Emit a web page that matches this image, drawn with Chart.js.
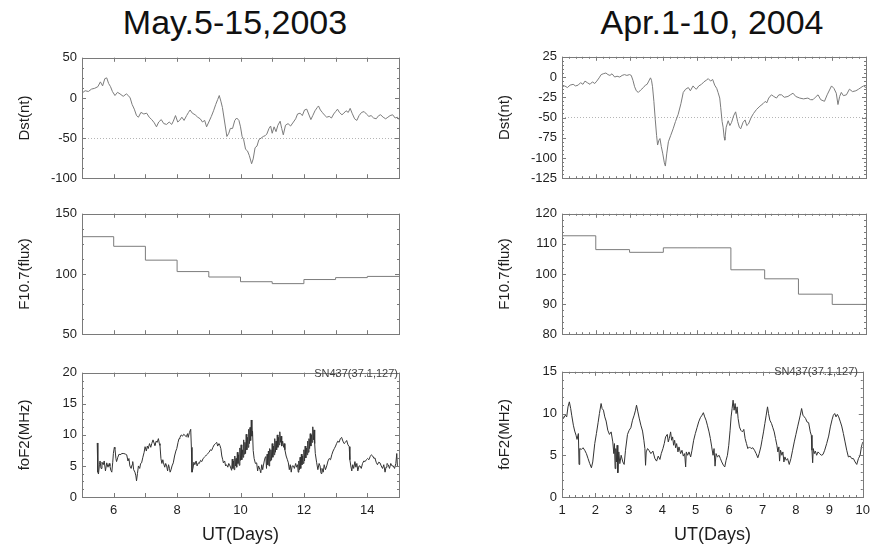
<!DOCTYPE html>
<html>
<head>
<meta charset="utf-8">
<script src="https://cdn.jsdelivr.net/npm/chart.js@4.4.1/dist/chart.umd.min.js"></script>
<style>
  body { margin: 0; background: #fff; width: 877px; height: 548px; position: relative; overflow: hidden;
         font-family: "Liberation Sans", Arial, sans-serif; }
  canvas { position: absolute; }
  .title { position: absolute; top: 3px; font-size: 34px; line-height: 38px; color: #111; white-space: nowrap;
           transform: translateX(-50%); }
  .station { position: absolute; font-size: 11px; color: #444; white-space: nowrap; }
</style>
</head>
<body>
<div class="title" style="left:235px">May.5-15,2003</div>
<div class="title" style="left:712px">Apr.1-10, 2004</div>

<canvas id="dstMay" width="399" height="146" style="left:10px;top:45px"></canvas>
<canvas id="fluxMay" width="399" height="146" style="left:10px;top:201px"></canvas>
<canvas id="fof2May" width="399" height="187" style="left:10px;top:360px"></canvas>

<canvas id="dstApr" width="386" height="147" style="left:490px;top:44px"></canvas>
<canvas id="fluxApr" width="386" height="146" style="left:490px;top:201px"></canvas>
<canvas id="fof2Apr" width="386" height="188" style="left:490px;top:359px"></canvas>

<div class="station" style="right:479px;top:367px">SN437(37.1,127)</div>
<div class="station" style="right:19px;top:365px">SN437(37.1,127)</div>

<script>
// ===== DATOS =====
// Dst, 5-15 mayo 2003
const dstMayDays = [5.00, 5.10, 5.20, 5.30, 5.40, 5.50, 5.58, 5.65, 5.72, 5.78, 5.84, 5.90, 5.96, 6.04, 6.12, 6.20,
  6.30, 6.40, 6.46, 6.52, 6.58, 6.65, 6.72, 6.78, 6.86, 6.95, 7.04, 7.12, 7.20, 7.28, 7.35, 7.42, 7.50, 7.58, 7.67,
  7.75, 7.83, 7.88, 7.95, 8.02, 8.08, 8.15, 8.22, 8.30, 8.36, 8.41, 8.48, 8.57, 8.65, 8.73, 8.80, 8.87, 8.93, 9.00,
  9.08, 9.15, 9.22, 9.28, 9.33, 9.38, 9.43, 9.50, 9.57, 9.63, 9.68, 9.75, 9.82, 9.88, 9.95, 10.00, 10.05, 10.10,
  10.16, 10.22, 10.28, 10.35, 10.40, 10.46, 10.52, 10.58, 10.65, 10.72, 10.78, 10.83, 10.90, 10.95, 11.00, 11.06,
  11.12, 11.18, 11.25, 11.30, 11.35, 11.42, 11.50, 11.58, 11.67, 11.74, 11.80, 11.88, 11.95, 12.02, 12.09, 12.15,
  12.22, 12.28, 12.35, 12.42, 12.46, 12.52, 12.58, 12.64, 12.72, 12.80, 12.87, 12.94, 13.00, 13.06, 13.12, 13.20,
  13.26, 13.33, 13.40, 13.46, 13.52, 13.60, 13.67, 13.74, 13.82, 13.90, 13.97, 14.05, 14.12, 14.20, 14.28, 14.36,
  14.42, 14.50, 14.58, 14.65, 14.72, 14.80, 14.88, 14.95, 15.00];
const dstMayVals = [6, 9, 8, 11, 12, 14, 20, 15, 24, 25, 18, 14, 8, 3, 7, 5,
  2, 5, 3, 0, -8, -14, -22, -24, -18, -20, -19, -24, -27, -31, -36, -30, -27, -32, -33,
  -30, -33, -29, -22, -30, -28, -24, -28, -22, -18, -15, -19, -21, -24, -26, -30, -28, -36, -30,
  -23, -16, -8, -2, 3, -4, -12, -30, -48, -44, -38, -38, -28, -25, -28, -36, -48, -52,
  -64, -66, -72, -82, -76, -62, -60, -52, -50, -48, -47, -45, -38, -35, -44, -36,
  -42, -34, -29, -38, -46, -34, -32, -35, -30, -26, -20, -19, -22, -15, -14, -20,
  -27, -22, -16, -12, -10, -15, -18, -21, -24, -23, -25, -20, -17, -14, -18, -21,
  -19, -16, -18, -13, -19, -26, -28, -22, -18, -17, -20, -23, -22, -25, -26, -22,
  -21, -24, -26, -24, -22, -21, -25, -24, -27];

// Dst, 1-10 abril 2004
const dstAprDays = [1.00, 1.08, 1.16, 1.24, 1.33, 1.40, 1.48, 1.55, 1.62, 1.68, 1.75, 1.83, 1.90, 1.97, 2.03, 2.10,
  2.16, 2.22, 2.30, 2.36, 2.42, 2.48, 2.56, 2.63, 2.71, 2.78, 2.85, 2.92, 3.00, 3.05, 3.10, 3.15, 3.20, 3.26, 3.33,
  3.41, 3.47, 3.52, 3.57, 3.62, 3.65, 3.68, 3.72, 3.76, 3.80, 3.83, 3.87, 3.90, 3.94, 3.98, 4.03, 4.06, 4.10, 4.15,
  4.22, 4.29, 4.36, 4.44, 4.52, 4.59, 4.66, 4.74, 4.80, 4.88, 4.94, 4.98, 5.05, 5.13, 5.20, 5.27, 5.33, 5.40, 5.46,
  5.52, 5.58, 5.62, 5.67, 5.70, 5.74, 5.77, 5.80, 5.82, 5.86, 5.92, 5.97, 6.02, 6.08, 6.14, 6.20, 6.25, 6.29, 6.36,
  6.42, 6.47, 6.52, 6.60, 6.67, 6.76, 6.86, 6.95, 7.02, 7.06, 7.12, 7.20, 7.27, 7.35, 7.42, 7.50, 7.58, 7.69, 7.76,
  7.84, 7.92, 8.04, 8.15, 8.28, 8.36, 8.43, 8.50, 8.58, 8.66, 8.77, 8.85, 8.92, 8.98, 9.05, 9.12, 9.17, 9.22, 9.27,
  9.33, 9.42, 9.51, 9.60, 9.70, 9.78, 9.85, 9.92, 10.00];
const dstAprVals = [-12, -11, -13, -10, -9, -11, -10, -7, -9, -5, -7, -9, -6, -8, -5, -1,
  3, 4, 5, 3, 2, 4, 0, 1, 0, 2, 3, 2, 3, 2, -4, -12, -17, -19, -16,
  -13, -10, -9, -5, -1, -4, -12, -30, -52, -72, -84, -78, -76, -86, -94, -106, -110, -95, -80,
  -72, -64, -55, -46, -33, -19, -15, -13, -17, -11, -14, -15, -11, -9, -6, -4, -2, -5, -3,
  -10, -14, -19, -26, -38, -55, -62, -74, -78, -62, -54, -60, -56, -48, -43, -55, -62, -64, -56,
  -53, -60, -58, -50, -45, -40, -36, -33, -30, -32, -26, -22, -24, -26, -22, -22, -25, -24, -22,
  -20, -24, -26, -27, -26, -28, -28, -25, -22, -28, -30, -22, -16, -11, -14, -20, -34, -24, -19,
  -23, -22, -15, -18, -17, -15, -13, -11, -13];

// F10.7 diario (escalones)
const fluxMayDays = [5, 6, 7, 8, 9, 10, 11, 12, 13, 14, 15];
const fluxMayVals = [131, 123, 111.5, 102, 97.5, 93.6, 92, 95.4, 97, 98, 98];
const fluxAprDays = [1, 2, 3, 4, 5, 6, 7, 8, 9, 10];
const fluxAprVals = [112.7, 108.1, 107.2, 108.7, 108.7, 101.4, 98.4, 93.3, 89.9, 89.9];

// foF2, estación SN437 (misma agrupación por filas en días y valores)
const fof2MayDays = [
  5.48, 5.50, 5.52, 5.55, 5.57, 5.60, 5.63, 5.67, 5.70, 5.74,
  5.78, 5.82, 5.86, 5.88, 5.91, 5.94, 5.97, 5.99, 6.02, 6.04,
  6.07, 6.09, 6.13, 6.17, 6.20, 6.26, 6.32, 6.37, 6.41, 6.45,
  6.48, 6.51, 6.55, 6.58, 6.60, 6.63, 6.67, 6.70, 6.72, 6.75,
  6.78, 6.82, 6.85, 6.88, 6.92, 6.96, 6.99, 7.03, 7.06, 7.09,
  7.13, 7.17, 7.20, 7.24, 7.28, 7.30, 7.34, 7.37, 7.41, 7.44,
  7.46, 7.49, 7.52, 7.55, 7.57, 7.61, 7.64, 7.67, 7.70, 7.73,
  7.76, 7.78, 7.81, 7.84, 7.88, 7.92, 7.96, 7.99, 8.03, 8.06,
  8.09, 8.13, 8.17, 8.21, 8.25, 8.29, 8.33, 8.35, 8.39, 8.43,
  8.45, 8.47, 8.50, 8.53, 8.56, 8.60, 8.63, 8.67, 8.70, 8.74,
  8.78, 8.82, 8.86, 8.90, 8.93, 8.97, 9.01, 9.05, 9.09, 9.13,
  9.17, 9.21, 9.25, 9.28, 9.32, 9.35, 9.38, 9.41, 9.44, 9.46,
  9.50, 9.53, 9.56, 9.60, 9.63, 9.67, 9.70, 9.72, 9.74, 9.76,
  9.78, 9.80, 9.82, 9.84, 9.86, 9.88, 9.90, 9.92, 9.94, 9.96,
  9.98, 10.00, 10.02, 10.04, 10.06, 10.08, 10.10, 10.12, 10.14, 10.16,
  10.18, 10.20, 10.22, 10.24, 10.26, 10.28, 10.30, 10.32, 10.34, 10.36,
  10.38, 10.40, 10.43, 10.47, 10.51, 10.54, 10.57, 10.61, 10.64, 10.67,
  10.70, 10.72, 10.75, 10.78, 10.80, 10.82, 10.84, 10.86, 10.88, 10.90,
  10.92, 10.94, 10.96, 10.98, 11.00, 11.02, 11.04, 11.06, 11.08, 11.10,
  11.12, 11.14, 11.16, 11.18, 11.20, 11.22, 11.24, 11.26, 11.28, 11.30,
  11.33, 11.36, 11.38, 11.40, 11.44, 11.48, 11.51, 11.54, 11.57, 11.60,
  11.63, 11.67, 11.70, 11.74, 11.77, 11.80, 11.82, 11.84, 11.86, 11.88,
  11.90, 11.92, 11.94, 11.96, 11.98, 12.00, 12.02, 12.04, 12.06, 12.08,
  12.10, 12.12, 12.14, 12.16, 12.18, 12.20, 12.22, 12.24, 12.26, 12.28,
  12.30, 12.32, 12.34, 12.36, 12.40, 12.44, 12.48, 12.51, 12.54, 12.57,
  12.61, 12.64, 12.68, 12.72, 12.76, 12.80, 12.84, 12.88, 12.92, 12.96,
  13.00, 13.03, 13.07, 13.11, 13.15, 13.19, 13.23, 13.27, 13.31, 13.35,
  13.39, 13.43, 13.45, 13.48, 13.51, 13.54, 13.57, 13.61, 13.64, 13.67,
  13.70, 13.74, 13.77, 13.81, 13.85, 13.89, 13.93, 13.97, 14.01, 14.05,
  14.09, 14.13, 14.17, 14.21, 14.24, 14.28, 14.32, 14.36, 14.40, 14.44,
  14.48, 14.52, 14.56, 14.59, 14.62, 14.66, 14.70, 14.74, 14.78, 14.82,
  14.86, 14.90, 14.93, 14.95];
const fof2MayVals = [
  8.7, 4.0, 3.7, 5.2, 5.8, 4.6, 5.6, 5.2, 5.8, 4.2,
  5.5, 4.8, 5.4, 5.0, 4.3, 4.0, 5.6, 7.0, 8.0, 7.8,
  6.2, 5.7, 6.4, 6.9, 6.8, 7.0, 7.0, 6.9, 6.8, 5.8,
  6.2, 5.0, 4.6, 5.2, 5.7, 4.4, 4.0, 3.4, 2.6, 3.8,
  5.0, 4.6, 5.4, 5.5, 6.4, 7.2, 8.1, 7.4, 8.2, 7.8,
  8.6, 8.0, 8.6, 9.2, 8.6, 8.3, 9.0, 8.8, 9.4, 8.6,
  8.3, 6.2, 5.4, 6.0, 5.5, 4.8, 5.4, 5.0, 4.2, 5.2,
  4.6, 4.0, 4.4, 5.0, 5.5, 6.6, 7.4, 7.8, 8.8, 9.4,
  9.6, 10.0, 9.8, 10.1, 9.9, 9.7, 10.2, 9.6, 10.4, 10.9,
  8.0, 4.0, 4.6, 5.6, 5.2, 5.8, 5.0, 5.5, 5.4, 5.9,
  5.7, 6.2, 6.4, 6.6, 6.8, 7.0, 7.2, 7.6, 7.5, 8.0,
  8.4, 8.6, 8.8, 8.2, 8.6, 8.3, 7.8, 6.6, 6.0, 5.5,
  5.8, 5.0, 5.2, 4.8, 5.4, 5.0, 5.0, 4.3, 6.1, 4.6,
  5.8, 4.4, 6.6, 5.0, 6.2, 4.8, 7.2, 5.4, 6.8, 5.1,
  7.9, 5.9, 8.4, 6.0, 7.6, 6.4, 9.2, 6.9, 8.8, 7.0,
  10.1, 7.6, 9.6, 8.0, 10.9, 8.6, 11.2, 9.1, 12.4, 9.8,
  10.6, 7.5, 6.2, 5.4, 5.5, 4.2, 5.0, 4.45, 3.9, 5.2,
  4.4, 5.0, 5.8, 6.4, 6.5, 4.6, 6.9, 5.2, 7.4, 5.0,
  7.8, 5.8, 7.6, 6.0, 8.6, 6.4, 8.2, 6.8, 9.4, 7.2,
  9.0, 7.6, 10.0, 8.0, 9.6, 8.4, 10.5, 8.8, 9.8, 8.2,
  9.0, 8.0, 8.6, 7.6, 6.6, 6.0, 5.5, 4.4, 5.2, 4.0,
  5.0, 5.0, 4.6, 5.4, 4.8, 5.2, 4.0, 5.8, 4.4, 6.4,
  4.6, 6.9, 5.2, 6.6, 5.4, 7.6, 5.8, 8.2, 6.3, 7.9,
  6.8, 9.0, 7.2, 9.4, 7.8, 10.2, 8.2, 10.0, 8.8, 11.3,
  9.2, 10.8, 8.6, 7.0, 5.6, 4.4, 5.4, 5.0, 3.8, 4.6,
  4.0, 5.2, 4.4, 5.0, 5.8, 6.2, 6.0, 6.8, 7.4, 7.8,
  8.2, 8.6, 9.0, 8.8, 9.4, 9.6, 9.0, 8.6, 8.8, 9.1,
  8.4, 8.1, 6.0, 5.0, 4.2, 5.2, 4.6, 5.7, 4.8, 5.4,
  4.2, 5.0, 5.0, 4.6, 5.4, 5.8, 5.7, 6.0, 6.2, 6.0,
  6.5, 6.8, 6.6, 6.2, 6.3, 5.6, 5.2, 5.6, 5.5, 5.0,
  4.6, 5.2, 4.0, 4.8, 5.4, 5.2, 4.6, 5.4, 5.0, 5.0,
  4.6, 5.4, 7.0, 5.0];

const fof2AprDays = [1.00, 1.04, 1.10, 1.14, 1.18, 1.22, 1.26, 1.29, 1.34, 1.38, 1.42, 1.45, 1.49, 1.51, 1.53, 1.58,
  1.63, 1.68, 1.73, 1.78, 1.83, 1.88, 1.92, 1.98, 2.03, 2.08, 2.12, 2.17, 2.20, 2.24, 2.28, 2.32, 2.37, 2.42, 2.47,
  2.52, 2.55, 2.57, 2.59, 2.61, 2.63, 2.65, 2.67, 2.70, 2.73, 2.77, 2.82, 2.86, 2.90, 2.96, 3.01, 3.06, 3.11, 3.16,
  3.20, 3.23, 3.27, 3.31, 3.36, 3.41, 3.45, 3.48, 3.50, 3.52, 3.56, 3.60, 3.66, 3.72, 3.78, 3.83, 3.88, 3.93, 3.97,
  4.02, 4.06, 4.10, 4.15, 4.18, 4.21, 4.25, 4.28, 4.31, 4.34, 4.37, 4.40, 4.43, 4.47, 4.50, 4.55, 4.59, 4.63, 4.67,
  4.70, 4.72, 4.76, 4.80, 4.85, 4.89, 4.94, 4.99, 5.04, 5.09, 5.14, 5.19, 5.23, 5.27, 5.31, 5.35, 5.40, 5.44, 5.48,
  5.52, 5.55, 5.58, 5.61, 5.65, 5.70, 5.74, 5.78, 5.83, 5.87, 5.91, 5.95, 5.99, 6.03, 6.06, 6.09, 6.12, 6.15, 6.18,
  6.21, 6.24, 6.27, 6.31, 6.35, 6.40, 6.44, 6.48, 6.52, 6.56, 6.61, 6.66, 6.71, 6.76, 6.81, 6.86, 6.90, 6.95, 6.99,
  7.03, 7.07, 7.11, 7.15, 7.18, 7.22, 7.27, 7.31, 7.35, 7.39, 7.43, 7.46, 7.49, 7.51, 7.54, 7.58, 7.61, 7.64, 7.67,
  7.71, 7.75, 7.80, 7.85, 7.90, 7.95, 8.00, 8.05, 8.09, 8.13, 8.17, 8.21, 8.25, 8.29, 8.33, 8.38, 8.43, 8.46, 8.48,
  8.50, 8.52, 8.55, 8.58, 8.62, 8.66, 8.71, 8.76, 8.81, 8.86, 8.92, 8.98, 9.03, 9.08, 9.12, 9.16, 9.20, 9.24, 9.28,
  9.33, 9.37, 9.42, 9.47, 9.52, 9.57, 9.62, 9.67, 9.72, 9.77, 9.82, 9.87, 9.92, 9.96, 10.00];
const fof2AprVals = [10.0, 9.4, 9.8, 9.6, 10.8, 11.4, 10.6, 9.8, 8.6, 7.9, 7.4, 6.9, 7.6, 3.9, 5.8, 5.7,
  5.9, 5.6, 5.2, 4.6, 4.0, 3.5, 4.2, 6.4, 7.6, 8.9, 10.0, 11.2, 10.6, 10.4, 9.6, 9.1, 8.0, 7.5, 7.8,
  6.6, 5.2, 6.4, 3.4, 5.8, 4.2, 6.2, 2.9, 5.4, 4.0, 5.0, 4.2, 3.9, 5.6, 7.5, 8.0, 8.3, 9.2, 9.8,
  10.4, 11.0, 10.2, 9.45, 8.6, 7.9, 6.8, 5.8, 3.8, 5.4, 5.8, 5.6, 5.2, 5.5, 4.6, 4.3, 4.9, 4.5, 5.2,
  5.8, 6.4, 7.2, 7.5, 6.6, 7.0, 7.8, 6.8, 7.2, 6.2, 6.8, 5.9, 6.4, 5.4, 6.0, 5.2, 5.6, 4.9, 5.2,
  3.6, 5.4, 5.0, 5.4, 4.8, 5.6, 6.8, 7.6, 8.3, 9.0, 9.5, 9.8, 10.1, 9.6, 9.2, 8.6, 7.8, 7.0, 6.0,
  5.0, 5.8, 3.7, 5.2, 4.8, 5.0, 4.6, 4.2, 3.8, 3.6, 4.4, 5.0, 6.2, 8.0, 9.6, 10.6, 11.6, 10.4, 11.2,
  10.0, 10.8, 9.4, 8.4, 8.0, 7.8, 8.1, 7.0, 6.4, 5.8, 6.0, 5.8, 5.9, 5.6, 5.2, 4.7, 5.2, 6.0, 6.9,
  7.8, 8.8, 9.8, 10.8, 10.0, 9.2, 8.8, 8.3, 7.8, 7.0, 6.2, 5.4, 6.0, 4.3, 5.6, 5.0, 5.4, 4.2, 4.8,
  4.4, 4.6, 3.9, 4.6, 5.6, 6.6, 7.5, 8.4, 9.1, 9.8, 10.6, 9.8, 9.6, 9.4, 9.0, 8.9, 7.8, 7.4, 5.6,
  4.1, 5.8, 5.2, 5.5, 5.0, 5.4, 5.2, 5.0, 5.1, 5.6, 6.4, 7.3, 8.4, 9.25, 9.8, 10.0, 9.6, 9.9, 9.6,
  9.0, 8.5, 7.6, 6.6, 5.6, 4.8, 4.9, 4.6, 4.6, 4.2, 3.9, 4.6, 5.0, 6.0, 6.6];

// Ejes: [min, max, paso] y etiquetas de días
const mayDayLabels = [6, 8, 10, 12, 14];
const aprDayLabels = [1, 2, 3, 4, 5, 6, 7, 8, 9, 10];
const dstMayRange = [-100, 50, 50];
const dstAprRange = [-125, 25, 25];
const fluxMayRange = [50, 150, 50];
const fluxAprRange = [80, 120, 10];
const fof2MayRange = [0, 20, 5];
const fof2AprRange = [0, 15, 5];

Chart.defaults.font.family = '"Liberation Sans", Arial, sans-serif';
Chart.defaults.color = '#1e1e1e';

// ===== MARCO CON TICKS HACIA DENTRO (estilo Origin) =====
const frameTicks = {
  id: 'frameTicks',
  afterDatasetsDraw(chart, args, opts) {
    const { ctx, chartArea: a, scales: { x, y } } = chart;
    ctx.save();
    ctx.strokeStyle = '#7a7a7a';
    ctx.lineWidth = 1;
    ctx.strokeRect(Math.round(a.left) + 0.5, Math.round(a.top) + 0.5,
      Math.round(a.right - a.left), Math.round(a.bottom - a.top));

    const drawX = (v, len) => {
      const px = Math.round(x.getPixelForValue(v)) + 0.5;
      ctx.moveTo(px, a.bottom); ctx.lineTo(px, a.bottom - len);
      ctx.moveTo(px, a.top); ctx.lineTo(px, a.top + len);
    };
    const drawY = (v, len) => {
      const py = Math.round(y.getPixelForValue(v)) + 0.5;
      ctx.moveTo(a.left, py); ctx.lineTo(a.left + len, py);
      ctx.moveTo(a.right, py); ctx.lineTo(a.right - len, py);
    };

    ctx.beginPath();
    for (let v = x.min; v <= x.max + 1e-9; v += opts.minorX) drawX(v, 2);
    for (let v = y.min; v <= y.max + 1e-9; v += opts.minorY) drawY(v, 2);
    x.ticks.forEach(t => drawX(t.value, 4));
    y.ticks.forEach(t => drawY(t.value, 4));
    ctx.stroke();
    ctx.restore();
  }
};

function toPoints(days, vals) {
  return days.map((d, i) => ({ x: d, y: vals[i] }));
}

function makePanel(id, o) {
  return new Chart(document.getElementById(id), {
    type: 'line',
    data: {
      datasets: [{
        data: toPoints(o.days, o.vals),
        borderColor: o.color,
        borderWidth: 1,
        pointRadius: 0,
        tension: 0,
        stepped: o.stepped || false
      }]
    },
    options: {
      responsive: false,
      animation: false,
      events: [],
      layout: { padding: { top: 8, right: 10, bottom: o.showX ? 0 : 8, left: 0 } },
      plugins: {
        legend: { display: false },
        tooltip: { enabled: false },
        frameTicks: { minorX: o.minorX, minorY: o.minorY }
      },
      scales: {
        x: {
          type: 'linear',
          min: o.xRange[0],
          max: o.xRange[1],
          grid: { display: false, drawTicks: false },
          border: { display: false },
          ticks: {
            display: !!o.showX,
            stepSize: 1,
            autoSkip: false,
            maxRotation: 0,
            padding: 6,
            font: { size: 13 },
            callback: v => (o.xLabels.includes(v) ? String(v) : '')
          },
          title: {
            display: !!o.showX,
            text: 'UT(Days)',
            font: { size: 18 },
            padding: { top: 0, bottom: 1 }
          },
          afterFit: s => { s.height = o.showX ? 50 : 0; }
        },
        y: {
          min: o.yRange[0],
          max: o.yRange[1],
          grid: {
            drawTicks: false,
            lineWidth: 1,
            color: c => (o.refLine !== undefined && c.tick && c.tick.value === o.refLine ? '#b5b5b5' : 'rgba(0,0,0,0)')
          },
          border: { display: false, dash: [1, 2] },
          ticks: { stepSize: o.yRange[2], padding: 5, font: { size: 13 } },
          title: {
            display: true,
            text: o.yTitle,
            font: { size: 15 },
            padding: { top: 6, bottom: 0 }
          },
          afterFit: s => { s.width = 72; }
        }
      }
    },
    plugins: [frameTicks]
  });
}

// ===== PANELES =====
makePanel('dstMay', { days: dstMayDays, vals: dstMayVals, color: '#7c7c7c', xRange: [5, 15], xLabels: mayDayLabels,
  yRange: dstMayRange, yTitle: 'Dst(nt)', refLine: -50, minorX: 1, minorY: 12.5 });
makePanel('fluxMay', { days: fluxMayDays, vals: fluxMayVals, color: '#7c7c7c', xRange: [5, 15], xLabels: mayDayLabels,
  yRange: fluxMayRange, yTitle: 'F10.7(flux)', stepped: true, minorX: 1, minorY: 12.5 });
makePanel('fof2May', { days: fof2MayDays, vals: fof2MayVals, color: '#333333', xRange: [5, 15], xLabels: mayDayLabels,
  yRange: fof2MayRange, yTitle: 'foF2(MHz)', showX: true, minorX: 1, minorY: 1.25 });

makePanel('dstApr', { days: dstAprDays, vals: dstAprVals, color: '#7c7c7c', xRange: [1, 10], xLabels: aprDayLabels,
  yRange: dstAprRange, yTitle: 'Dst(nt)', refLine: -50, minorX: 0.2, minorY: 5 });
makePanel('fluxApr', { days: fluxAprDays, vals: fluxAprVals, color: '#7c7c7c', xRange: [1, 10], xLabels: aprDayLabels,
  yRange: fluxAprRange, yTitle: 'F10.7(flux)', stepped: true, minorX: 0.2, minorY: 2 });
makePanel('fof2Apr', { days: fof2AprDays, vals: fof2AprVals, color: '#333333', xRange: [1, 10], xLabels: aprDayLabels,
  yRange: fof2AprRange, yTitle: 'foF2(MHz)', showX: true, minorX: 0.2, minorY: 1 });
</script>
</body>
</html>
